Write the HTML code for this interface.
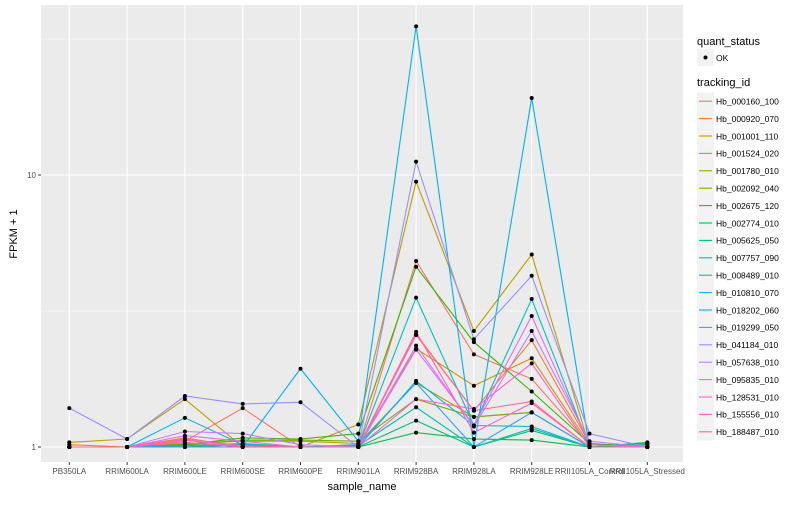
<!DOCTYPE html>
<html><head><meta charset="utf-8"><style>
body{margin:0;background:#fff;font-family:"Liberation Sans",sans-serif}
svg text{font-family:"Liberation Sans",sans-serif}
</style></head><body>
<svg id="chart" width="800" height="500" xmlns="http://www.w3.org/2000/svg"></svg>
<script>
const categories=["PB350LA","RRIM600LA","RRIM600LE","RRIM600SE","RRIM600PE","RRIM901LA","RRIM928BA","RRIM928LA","RRIM928LE","RRII105LA_Control","RRII105LA_Stressed"];
const seriesNames=["Hb_000160_100","Hb_000920_070","Hb_001001_110","Hb_001524_020","Hb_001780_010","Hb_002092_040","Hb_002675_120","Hb_002774_010","Hb_005625_050","Hb_007757_090","Hb_008489_010","Hb_010810_070","Hb_018202_060","Hb_019299_050","Hb_041184_010","Hb_057638_010","Hb_095835_010","Hb_128531_010","Hb_155556_010","Hb_188487_010"];
const seriesColors=["#F8766D","#EA8331","#D89000","#C09B00","#A3A500","#7CAE00","#39B600","#00BB4E","#00BF7D","#00C1A3","#00BFC4","#00BAE0","#00B0F6","#35A2FF","#9590FF","#C77CFF","#E76BF3","#FA62DB","#FF62BC","#FF6C91"];
const s00=[1.0,1.0,1.05,1.39,1.0,1.0,4.83,2.19,1.78,1.02,1.0];
const s01=[1.02,1.0,1.08,1.0,1.0,1.0,2.6,1.36,2.47,1.03,1.0];
const s02=[1.0,1.0,1.02,1.02,1.0,1.02,2.3,1.68,2.12,1.02,1.0];
const s03=[1.04,1.07,1.5,1.0,1.0,1.21,9.45,2.67,5.1,1.0,1.0];
const s04=[1.0,1.0,1.03,1.05,1.05,1.03,1.72,1.29,1.34,1.0,1.02];
const s05=[1.0,1.0,1.02,1.06,1.06,1.05,1.5,1.29,1.34,1.0,1.03];
const s06=[1.0,1.0,1.02,1.08,1.07,1.12,4.6,2.43,1.6,1.03,1.0];
const s07=[1.0,1.0,1.0,1.02,1.0,1.0,1.13,1.07,1.06,1.0,1.04];
const s08=[1.0,1.0,1.0,1.02,1.0,1.0,1.25,1.0,1.15,1.0,1.03];
const s09=[1.0,1.0,1.01,1.03,1.0,1.01,1.4,1.0,1.17,1.0,1.02];
const s10=[1.0,1.0,1.01,1.02,1.0,1.0,3.54,1.2,3.5,1.0,1.0];
const s11=[1.0,1.0,1.28,1.02,1.0,1.0,1.75,1.2,1.19,1.0,1.0];
const s12=[1.0,1.0,1.0,1.0,1.94,1.05,35.2,1.0,19.2,1.0,1.0];
const s13=[1.0,1.0,1.0,1.0,1.0,1.02,1.72,1.0,1.34,1.0,1.0];
const s14=[1.39,1.07,1.54,1.44,1.46,1.0,11.2,2.49,4.26,1.12,1.0];
const s15=[1.0,1.0,1.14,1.12,1.02,1.0,2.36,1.19,2.67,1.05,1.0];
const s16=[1.0,1.0,1.1,1.05,1.0,1.0,2.28,1.2,3.03,1.02,1.0];
const s17=[1.0,1.0,1.06,1.0,1.0,1.0,1.5,1.38,2.03,1.0,1.0];
const s18=[1.0,1.0,1.04,1.0,1.0,1.0,2.65,1.13,1.45,1.0,1.0];
const s19=[1.0,1.0,1.07,1.01,1.0,1.0,2.58,1.36,1.47,1.0,1.0];
const seriesValues=[s00,s01,s02,s03,s04,s05,s06,s07,s08,s09,s10,s11,s12,s13,s14,s15,s16,s17,s18,s19];
const yTicks=[1,10];
const yMinor=[Math.sqrt(10),Math.sqrt(1000)];

const svg=document.getElementById('chart');
const NS='http://www.w3.org/2000/svg';
function mk(tag,attrs,parent){const e=document.createElementNS(NS,tag);for(const k in attrs)e.setAttribute(k,attrs[k]);(parent||svg).appendChild(e);return e;}
const P={l:41,r:683,t:5,b:462};
const x0=69.3,dx=57.8;
function xs(i){return x0+dx*i;}
function ys(v){return 447-272*Math.log10(v);}

const panel=mk('rect',{x:P.l,y:P.t,width:P.r-P.l,height:P.b-P.t,fill:'#EBEBEB'});


yMinor.forEach(v=>{const l=mk('line',{x1:P.l,x2:P.r,y1:ys(v),y2:ys(v),stroke:'#fff','stroke-width':0.6});

});
yTicks.forEach(v=>{const l=mk('line',{x1:P.l,x2:P.r,y1:ys(v),y2:ys(v),stroke:'#fff','stroke-width':1.1});


mk('line',{x1:P.l-3,x2:P.l,y1:ys(v),y2:ys(v),stroke:'#333','stroke-width':1});
const t=mk('text',{x:P.l-5,y:ys(v)+3,'text-anchor':'end','font-size':8,fill:'#4d4d4d'});t.textContent=v;

});
categories.forEach((c,i)=>{const l=mk('line',{x1:xs(i),x2:xs(i),y1:P.t,y2:P.b,stroke:'#fff','stroke-width':1.1});


mk('line',{x1:xs(i),x2:xs(i),y1:P.b,y2:P.b+3,stroke:'#333','stroke-width':1});
const t=mk('text',{x:xs(i),y:P.b+12,'text-anchor':'middle','font-size':8,fill:'#4d4d4d'});t.textContent=c;

});

seriesValues.forEach((vals,s)=>{
  const pts=vals.map((v,i)=>xs(i).toFixed(1)+','+ys(v).toFixed(1)).join(' ');
  const pl=mk('polyline',{points:pts,fill:'none',stroke:seriesColors[s],'stroke-width':1.1});
  
  
});
seriesValues.forEach((vals,s)=>{
  vals.forEach((v,i)=>{const c=mk('circle',{cx:xs(i),cy:ys(v),r:2,fill:'#000'});
  
  });
});

const xt=mk('text',{x:362,y:490,'text-anchor':'middle','font-size':11,fill:'#000'});xt.textContent='sample_name';


const yt=mk('text',{x:17,y:234,'text-anchor':'middle','font-size':11,fill:'#000',transform:'rotate(-90 17 234)'});yt.textContent='FPKM + 1';



const lt1=mk('text',{x:697,y:45,'font-size':11,fill:'#000'});lt1.textContent='quant_status';


mk('rect',{x:697,y:49,width:17,height:17,fill:'#F2F2F2'});
mk('circle',{cx:705.5,cy:57.5,r:2,fill:'#000'});
const ok=mk('text',{x:716,y:61,'font-size':8.5,fill:'#000'});ok.textContent='OK';


const lt2=mk('text',{x:697,y:86,'font-size':11,fill:'#000'});lt2.textContent='tracking_id';


seriesNames.forEach((n,s)=>{
  const y=92.5+17.4*s;
  mk('rect',{x:697,y:y,width:17,height:17.4,fill:'#F2F2F2'});
  mk('line',{x1:699,x2:712,y1:y+8.7,y2:y+8.7,stroke:seriesColors[s],'stroke-width':1.1});
  const t=mk('text',{x:716,y:y+12,'font-size':8.5,fill:'#000'});t.textContent=n;
  
  
});
</script>
</body></html>
